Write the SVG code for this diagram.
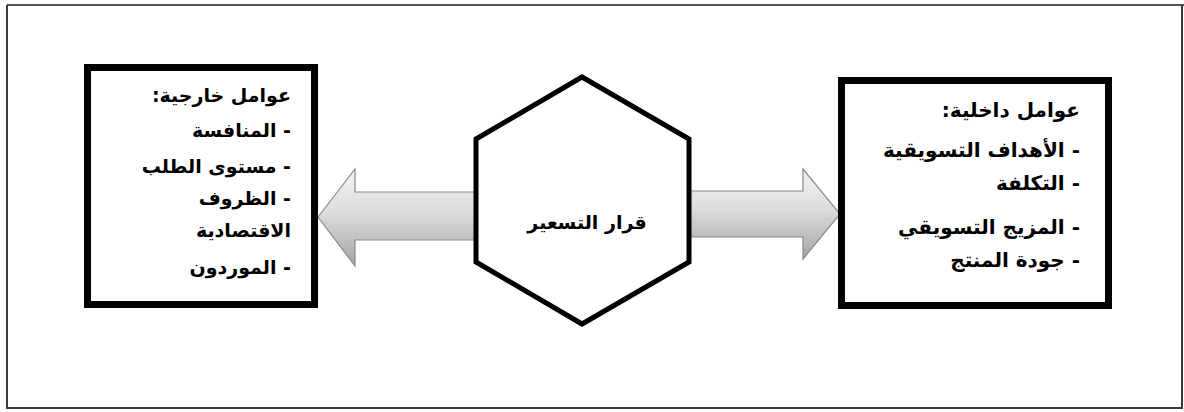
<svg xmlns="http://www.w3.org/2000/svg" width="1184" height="412" viewBox="0 0 1184 412">
<style>
.frame{fill:none;stroke:#3a3a3a;stroke-width:2}
.box{fill:#fff;stroke:#000;stroke-width:7}
.hex{fill:#fff;stroke:#000;stroke-width:5;stroke-linejoin:miter}
.arrow{fill:url(#g);stroke:#8a8a8a;stroke-width:1.2}
.t{font-family:"DejaVu Sans",sans-serif;font-weight:bold;font-size:19px;fill:#000;direction:rtl;unicode-bidi:embed;text-anchor:start}
.r{font-size:20px}
.c{font-family:"DejaVu Sans",sans-serif;font-weight:bold;font-size:19px;fill:#000;direction:rtl;unicode-bidi:embed;text-anchor:middle}
</style>
<defs>
<linearGradient id="g" x1="0" y1="0" x2="0" y2="1">
<stop offset="0" stop-color="#f4f4f4"/>
<stop offset="0.45" stop-color="#dcdcdc"/>
<stop offset="1" stop-color="#a4a4a4"/>
</linearGradient>
</defs>
<rect width="1184" height="412" fill="#fff"/>
<g id="frame">
<line x1="7" y1="5" x2="1184" y2="5" stroke="#555" stroke-width="2"/>
<polyline class="frame" points="7,5 7,408 1182,408 1182,5"/>
</g>
<g id="connectors">
<path class="arrow" d="M318,217 L355,169 L355,192 L478,192 L478,240 L355,240 L355,266 Z"/>
<path class="arrow" d="M687,191 L803,191 L803,169 L840,214 L803,259 L803,237 L687,237 Z"/>
</g>
<g id="external">
<rect class="box" x="87.5" y="67.5" width="227" height="237"/>
<text class="t" x="291" y="102">عوامل خارجية:</text>
<text class="t" x="291" y="137">- المنافسة</text>
<text class="t" x="291" y="173">- مستوى الطلب</text>
<text class="t" x="291" y="205">- الظروف</text>
<text class="t" x="291" y="237">الاقتصادية</text>
<text class="t" x="291" y="274">- الموردون</text>
</g>
<g id="decision">
<polygon class="hex" points="582,77 476,139 476,262 582,324 689,262 689,139"/>
<text class="c" x="587" y="229">قرار التسعير</text>
</g>
<g id="internal">
<rect class="box" x="841.5" y="80.5" width="267" height="225"/>
<text class="t r" x="1080" y="117">عوامل داخلية:</text>
<text class="t r" x="1080" y="157">- الأهداف التسويقية</text>
<text class="t r" x="1080" y="190">- التكلفة</text>
<text class="t r" x="1080" y="234">- المزيج التسويقي</text>
<text class="t r" x="1080" y="267">- جودة المنتج</text>
</g>
</svg>
